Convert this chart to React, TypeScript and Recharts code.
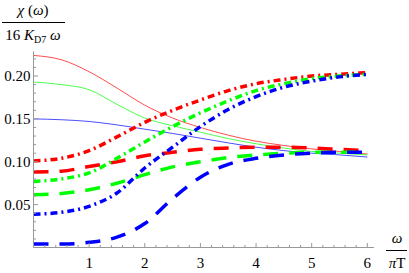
import React from "react";
import { LineChart, Line, XAxis, YAxis } from "recharts";

// omega / (pi T)
const omega = [0, 0.5, 1, 1.5, 2, 2.5, 3, 3.5, 4, 4.5, 5, 5.5, 6];

// thin solid curves (decreasing)
const solidRed = [0.224, 0.219, 0.205, 0.186, 0.166, 0.151, 0.14, 0.131, 0.124, 0.119, 0.115, 0.112, 0.109];
const solidGreen = [0.193, 0.19, 0.184, 0.167, 0.151, 0.142, 0.1345, 0.127, 0.121, 0.116, 0.112, 0.11, 0.108];
const solidBlue = [0.15, 0.149, 0.147, 0.143, 0.138, 0.133, 0.1275, 0.122, 0.117, 0.113, 0.11, 0.108, 0.1055];

// thick dashed curves
const dashRed = [0.088, 0.089, 0.0945, 0.1, 0.107, 0.111, 0.1145, 0.116, 0.117, 0.117, 0.116, 0.1145, 0.113];
const dashGreen = [0.0616, 0.063, 0.0674, 0.075, 0.085, 0.094, 0.1, 0.105, 0.108, 0.11, 0.111, 0.111, 0.111];
const dashBlue = [0.004, 0.004, 0.006, 0.012, 0.028, 0.057, 0.082, 0.097, 0.104, 0.108, 0.11, 0.111, 0.111];

// thick dot-dashed curves (rising to ~0.20)
const dotDashRed = [0.101, 0.104, 0.113, 0.129, 0.146, 0.16, 0.172, 0.183, 0.191, 0.196, 0.2, 0.202, 0.204];
const dotDashGreen = [0.077, 0.08, 0.087, 0.104, 0.123, 0.141, 0.157, 0.171, 0.183, 0.191, 0.197, 0.2, 0.202];
const dotDashBlue = [0.0387, 0.041, 0.048, 0.0636, 0.0927, 0.117, 0.141, 0.161, 0.176, 0.187, 0.194, 0.199, 0.202];

const xMajor = [1, 2, 3, 4, 5, 6];
const yMajor = [0.05, 0.1, 0.15, 0.2];
const yLabels = ["0.05", "0.10", "0.15", "0.20"];

const data = omega.map((w, i) => ({
  w,
  sR: solidRed[i],
  sG: solidGreen[i],
  sB: solidBlue[i],
  dR: dashRed[i],
  dG: dashGreen[i],
  dB: dashBlue[i],
  ddR: dotDashRed[i],
  ddG: dotDashGreen[i],
  ddB: dotDashBlue[i],
}));

// minor ticks every 0.2 on x, 0.01 on y
const xTicks: number[] = [];
for (let k = 1; k <= 30; k++) xTicks.push(+(k * 0.2).toFixed(2));
const yTicks: number[] = [];
for (let k = 1; k <= 22; k++) yTicks.push(+(k * 0.01).toFixed(2));

const FONT = "Liberation Serif, DejaVu Serif, serif";
const AXIS = "#999";
const textStyle = { fontFamily: FONT, fontSize: 15 };

const isMajor = (v: number, majors: number[]) => majors.some((m) => Math.abs(m - v) < 1e-6);

function XTick(props: any) {
  const { x, y, payload } = props;
  const major = isMajor(payload.value, xMajor);
  return (
    <g>
      <line x1={x} x2={x} y1={y} y2={y - (major ? 4.5 : 2.5)} stroke={AXIS} strokeWidth={1} />
      {major && (
        <text x={x} y={y + 20.5} textAnchor="middle" style={textStyle} fill="#000">
          {payload.value}
        </text>
      )}
    </g>
  );
}

function YTick(props: any) {
  const { x, y, payload } = props;
  const idx = yMajor.findIndex((m) => Math.abs(m - payload.value) < 1e-6);
  const major = idx >= 0;
  return (
    <g>
      <line x1={x} x2={x + (major ? 4.5 : 2.5)} y1={y} y2={y} stroke={AXIS} strokeWidth={1} />
      {major && (
        <text x={x - 3} y={y + 5} textAnchor="end" style={textStyle} fill="#000">
          {yLabels[idx]}
        </text>
      )}
    </g>
  );
}

const thick = 3.5;
const dashed = "15 11";
const dotDashed = "7 4 2 4";

export default function App() {
  return (
    <div style={{ position: "absolute", left: 0, top: 0, width: 409, height: 273, background: "#fff" }}>
      <LineChart
        width={409}
        height={273}
        data={data}
        margin={{ top: 51.5, right: 35, bottom: 0, left: 0 }}
      >
        <XAxis
          type="number"
          dataKey="w"
          domain={[0, 6.12]}
          ticks={xTicks}
          interval={0}
          tickSize={0}
          tickMargin={0}
          tickLine={false}
          tick={<XTick />}
          axisLine={{ stroke: AXIS }}
          height={25.5}
          allowDataOverflow
        />
        <YAxis
          type="number"
          domain={[0, 0.2286]}
          ticks={yTicks}
          interval={0}
          tickSize={0}
          tickMargin={0}
          tickLine={false}
          tick={<YTick />}
          axisLine={{ stroke: AXIS }}
          width={33.5}
          allowDataOverflow
        />
        <Line type="monotone" dataKey="sR" stroke="#ff0000" strokeOpacity={0.7} strokeWidth={1} dot={false} isAnimationActive={false} />
        <Line type="monotone" dataKey="sG" stroke="#00ff00" strokeOpacity={0.7} strokeWidth={1} dot={false} isAnimationActive={false} />
        <Line type="monotone" dataKey="sB" stroke="#0000ff" strokeOpacity={0.7} strokeWidth={1} dot={false} isAnimationActive={false} />
        <Line type="monotone" dataKey="dR" stroke="#ff0000" strokeWidth={thick} strokeDasharray={dashed} dot={false} isAnimationActive={false} />
        <Line type="monotone" dataKey="dG" stroke="#00ff00" strokeWidth={thick} strokeDasharray={dashed} dot={false} isAnimationActive={false} />
        <Line type="monotone" dataKey="dB" stroke="#0000ff" strokeWidth={thick} strokeDasharray={dashed} dot={false} isAnimationActive={false} />
        <Line type="monotone" dataKey="ddR" stroke="#ff0000" strokeWidth={thick} strokeDasharray={dotDashed} dot={false} isAnimationActive={false} />
        <Line type="monotone" dataKey="ddG" stroke="#00ff00" strokeWidth={thick} strokeDasharray={dotDashed} dot={false} isAnimationActive={false} />
        <Line type="monotone" dataKey="ddB" stroke="#0000ff" strokeWidth={thick} strokeDasharray={dotDashed} dot={false} isAnimationActive={false} />
      </LineChart>
      <svg
        width={409}
        height={273}
        style={{ position: "absolute", left: 0, top: 0, pointerEvents: "none", fontFamily: FONT }}
      >
        <text x={33} y={15} textAnchor="middle" style={textStyle} fill="#000">
          <tspan fontStyle="italic">χ</tspan> (<tspan fontStyle="italic">ω</tspan>)
        </text>
        <line x1={2} x2={65} y1={22.5} y2={22.5} stroke="#000" strokeWidth={1} />
        <text x={33} y={40} textAnchor="middle" style={textStyle} fill="#000">
          16 <tspan fontStyle="italic">K</tspan>
          <tspan fontSize={10} dy={3}>D7</tspan>
          <tspan dy={-3}> </tspan>
          <tspan fontStyle="italic">ω</tspan>
        </text>
        <text x={397} y={243} textAnchor="middle" style={textStyle} fill="#000" fontStyle="italic">
          ω
        </text>
        <line x1={386} x2={407} y1={250.5} y2={250.5} stroke="#000" strokeWidth={1} />
        <text x={397} y={268} textAnchor="middle" style={textStyle} fill="#000">
          <tspan fontStyle="italic">π</tspan>T
        </text>
      </svg>
    </div>
  );
}
